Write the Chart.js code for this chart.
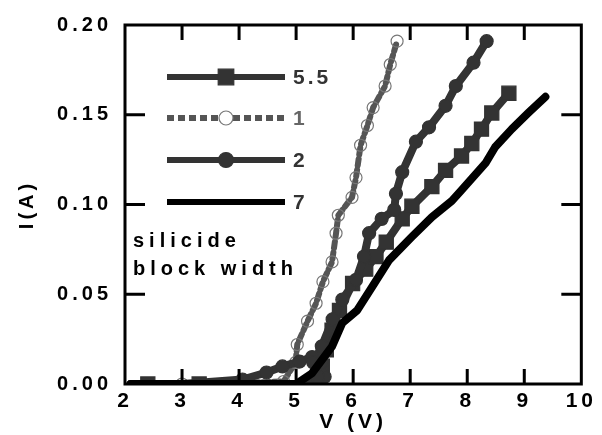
<!DOCTYPE html>
<html>
<head>
<meta charset="utf-8">
<script src="https://cdn.jsdelivr.net/npm/chart.js@4"></script>
<style>
  html, body { margin: 0; padding: 0; background: #fff; }
  #wrap { width: 602px; height: 435px; }
</style>
</head>
<body>
<div id="wrap"><canvas id="myChart" width="602" height="435"></canvas></div>
<script>
const xTicks = [2, 3, 4, 5, 6, 7, 8, 9, 10];
const yTicks = [0, 0.05, 0.1, 0.15, 0.2];

// width 5.5
const x55 = [2.1, 2.4, 3.3, 4.2, 5.0, 5.35, 5.4, 5.46, 5.53, 5.63, 5.76, 5.99, 6.22, 6.4, 6.58, 6.86, 7.03, 7.38, 7.62, 7.9, 8.08, 8.25, 8.43, 8.73];
const y55 = [0, 0, 0, 0, 0, 0.001, 0.0025, 0.010, 0.019, 0.030, 0.041, 0.056, 0.064, 0.071, 0.079, 0.092, 0.099, 0.110, 0.119, 0.127, 0.134, 0.142, 0.151, 0.162];
// width 1
const x1 = [2.1, 3.0, 3.96, 4.78, 4.99, 5.02, 5.2, 5.35, 5.47, 5.63, 5.70, 5.74, 5.98, 6.05, 6.13, 6.25, 6.35, 6.56, 6.65, 6.77];
const y1 = [0, 0, 0.0005, 0.0014, 0.012, 0.022, 0.035, 0.045, 0.057, 0.068, 0.084, 0.094, 0.104, 0.115, 0.133, 0.144, 0.154, 0.166, 0.178, 0.191];
// width 2
const x2 = [2.1, 3.0, 4.06, 4.48, 4.76, 5.06, 5.28, 5.45, 5.5, 5.38, 5.3, 5.45, 5.64, 5.81, 6.05, 6.19, 6.28, 6.5, 6.72, 6.75, 6.86, 7.1, 7.33, 7.62, 7.8, 8.11, 8.34];
const y2 = [0, 0, 0.0025, 0.0064, 0.0098, 0.0125, 0.015, 0.012, 0.004, 0.004, 0.012, 0.021, 0.036, 0.047, 0.058, 0.071, 0.084, 0.092, 0.097, 0.106, 0.118, 0.135, 0.143, 0.155, 0.166, 0.179, 0.191];
// width 7
const x7 = [2.1, 3.0, 4.0, 5.0, 5.28, 5.63, 5.81, 6.07, 6.33, 6.63, 7.03, 7.38, 7.73, 7.9, 8.32, 8.49, 8.78, 9.07, 9.37];
const y7 = [0, 0, 0, 0, 0.006, 0.021, 0.034, 0.041, 0.054, 0.069, 0.082, 0.093, 0.102, 0.108, 0.123, 0.132, 0.142, 0.151, 0.160];

function pts(xs, ys) {
  return xs.map((x, i) => ({ x: x, y: ys[i] }));
}

const FONT = "'Liberation Sans', Arial, sans-serif";

const series = [
  { label: "5.5", data: pts(x55, y55), color: "#333333", style: "rect", dash: [], width: 8, radius: 10, skip: [0, 3, 4] },
  { label: "1", data: pts(x1, y1), color: "#555555", style: "circle", dash: [7, 4], width: 6, radius: 6, open: true, skip: [0] },
  { label: "2", data: pts(x2, y2), color: "#333333", style: "circle", dash: [], width: 8, radius: 6.5, skip: [0, 1] },
  { label: "7", data: pts(x7, y7), color: "#000000", style: false, dash: [], width: 8, radius: 0, skip: [] },
];

const datasets = series.slice().reverse().map(s => ({
  label: s.label,
  data: s.data,
  showLine: true,
  borderColor: s.color,
  borderWidth: s.width,
  borderDash: s.dash,
  borderJoinStyle: "round",
  borderCapStyle: "round",
  tension: 0,
  pointStyle: s.style,
  pointRadius: s.data.map((p, i) => s.skip.includes(i) ? 0 : s.radius),
  pointBackgroundColor: s.open ? "rgba(255,255,255,0)" : s.color,
  pointBorderColor: s.open ? "#777777" : s.color,
  pointBorderWidth: 1.2,
}));

const spacingPlugin = {
  id: "spacing",
  beforeLayout(chart) { chart.ctx.letterSpacing = "4px"; },
  beforeDraw(chart) { chart.ctx.letterSpacing = "4px"; },
};

const framePlugin = {
  id: "frame",
  afterDatasetsDraw(chart) {
    const ctx = chart.ctx;
    const a = chart.chartArea;
    const xs = chart.scales.x, ys = chart.scales.y;
    ctx.save();
    ctx.strokeStyle = "#000";
    ctx.lineWidth = 3;
    ctx.strokeRect(a.left, a.top, a.right - a.left, a.bottom - a.top);
    ctx.beginPath();
    xTicks.slice(1, -1).forEach(v => {
      const p = xs.getPixelForValue(v);
      ctx.moveTo(p, a.bottom); ctx.lineTo(p, a.bottom - 15);
      ctx.moveTo(p, a.top); ctx.lineTo(p, a.top + 15);
    });
    yTicks.slice(1, -1).forEach(v => {
      const p = ys.getPixelForValue(v);
      ctx.moveTo(a.left, p); ctx.lineTo(a.left + 20, p);
      ctx.moveTo(a.right, p); ctx.lineTo(a.right - 20, p);
    });
    ctx.stroke();
    ctx.restore();
  },
  afterDraw(chart) {
    const ctx = chart.ctx;
    ctx.save();
    // legend inside plot
    const rowY = [77, 118, 160, 202];
    series.forEach((s, i) => {
      const y = rowY[i];
      ctx.strokeStyle = s.color;
      ctx.lineWidth = 6;
      ctx.setLineDash(s.dash);
      ctx.beginPath();
      ctx.moveTo(167, y); ctx.lineTo(285, y);
      ctx.stroke();
      ctx.setLineDash([]);
      if (s.style) {
        ctx.fillStyle = s.open ? "#fff" : s.color;
        ctx.strokeStyle = s.open ? "#777" : s.color;
        ctx.lineWidth = 1.2;
        Chart.helpers.drawPoint(ctx, { pointStyle: s.style, radius: s.radius + 1, borderWidth: 1.2 }, 226, y);
      }
      ctx.fillStyle = s.open ? "#666" : "#333";
      ctx.letterSpacing = "3px";
      ctx.font = "bold 21px " + FONT;
      ctx.textAlign = "left";
      ctx.textBaseline = "middle";
      ctx.fillText(s.label, 293, y + 1);
    });
    ctx.fillStyle = "#000";
    ctx.letterSpacing = "5px";
    ctx.font = "bold 20px " + FONT;
    ctx.fillText("silicide", 133, 241);
    ctx.fillText("block width", 133, 269);
    ctx.restore();
  },
};

const ctx = document.getElementById("myChart");
const myChart = new Chart(ctx, {
  type: "line",
  data: { datasets: datasets },
  options: {
    responsive: false,
    animation: false,
    layout: { padding: { top: 25, right: 19, bottom: 0, left: 0 } },
    plugins: { legend: { display: false }, tooltip: { enabled: false } },
    scales: {
      x: {
        type: "linear",
        min: 2,
        max: 10,
        afterFit(scale) { scale.height = 51; },
        afterBuildTicks(scale) { scale.ticks = xTicks.map(v => ({ value: v })); },
        grid: { display: false, drawTicks: false },
        border: { display: false },
        ticks: {
          padding: 5,
          color: "#000",
          font: { family: FONT, size: 21, weight: "bold" },
          maxRotation: 0,
          autoSkip: false,
        },
        title: {
          display: true,
          text: "V (V)",
          color: "#000",
          padding: { top: 0, bottom: 0 },
          font: { family: FONT, size: 21, weight: "bold" },
        },
      },
      y: {
        min: 0,
        max: 0.2,
        afterFit(scale) { scale.width = 125; },
        afterBuildTicks(scale) { scale.ticks = yTicks.map(v => ({ value: v })); },
        grid: { display: false, drawTicks: false },
        border: { display: false },
        ticks: {
          padding: 13,
          color: "#000",
          font: { family: FONT, size: 20, weight: "bold" },
          callback: v => v.toFixed(2),
        },
        title: {
          display: true,
          text: "I(A)",
          color: "#000",
          padding: { top: 15, bottom: 0 },
          font: { family: FONT, size: 20, weight: "bold" },
        },
      },
    },
  },
  plugins: [spacingPlugin, framePlugin],
});
</script>
</body>
</html>
